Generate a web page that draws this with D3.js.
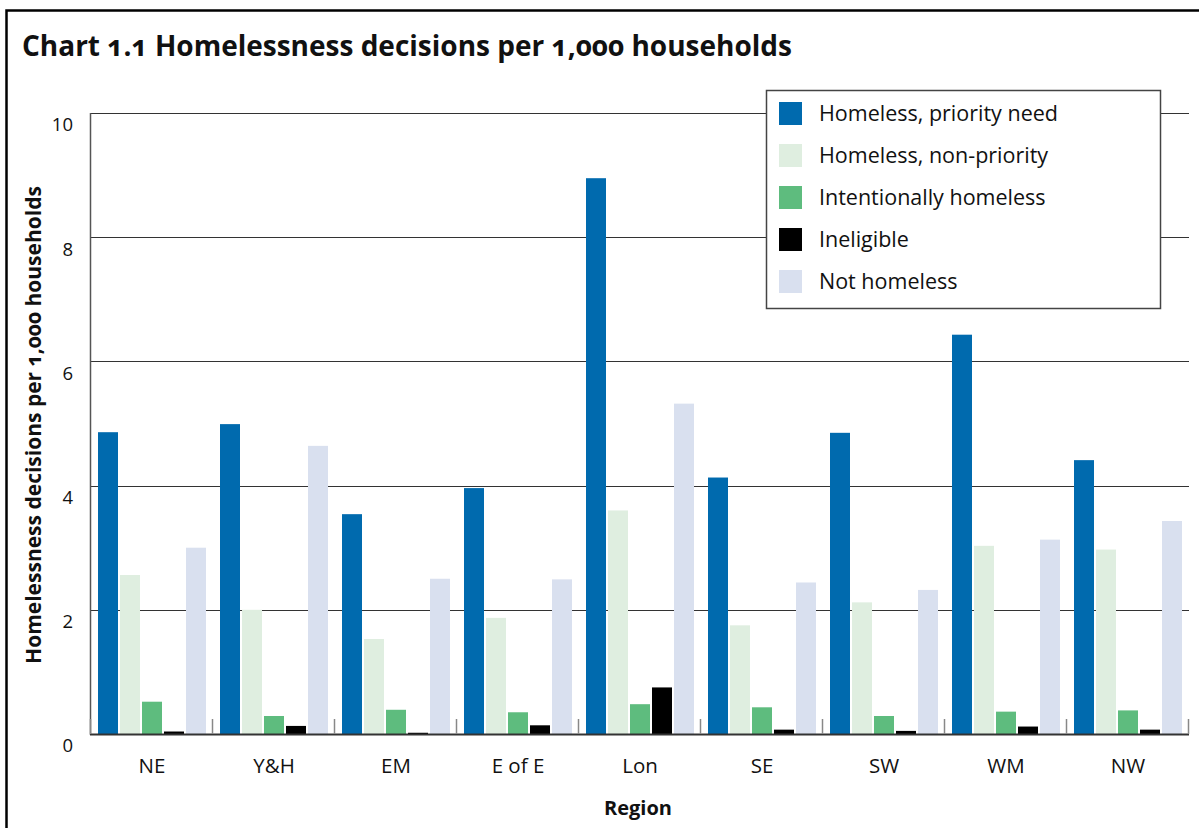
<!DOCTYPE html>
<html>
<head>
<meta charset="utf-8">
<script src="https://cdn.jsdelivr.net/npm/d3@7"></script>
<style>
  html, body { margin: 0; padding: 0; background: #fff; }
  svg { display: block; }
  text { font-family: "Open Sans", "Noto Sans", sans-serif; fill: #111; }
  .onum { font-feature-settings: "onum" 1; font-variant-numeric: oldstyle-nums; }
</style>
</head>
<body>
<svg id="chart" width="1199" height="828"></svg>
<script>
// Homelessness decisions per 1,000 households, by region
const regions = ["NE", "Y&H", "EM", "E of E", "Lon", "SE", "SW", "WM", "NW"];
const seriesNames = [
  "Homeless, priority need",
  "Homeless, non-priority",
  "Intentionally homeless",
  "Ineligible",
  "Not homeless"
];
const priorityNeed   = [4.86, 4.99, 3.54, 3.96, 8.95, 4.13, 4.85, 6.43, 4.41];
const nonPriority    = [2.56, 2.00, 1.53, 1.87, 3.60, 1.75, 2.12, 3.03, 2.97];
const intentionally  = [0.52, 0.29, 0.39, 0.35, 0.48, 0.43, 0.29, 0.36, 0.38];
const ineligible     = [0.04, 0.13, 0.02, 0.14, 0.75, 0.07, 0.05, 0.12, 0.07];
const notHomeless    = [3.00, 4.64, 2.50, 2.49, 5.32, 2.44, 2.32, 3.13, 3.43];
const yTicks = [0, 2, 4, 6, 8, 10];

const seriesValues = [priorityNeed, nonPriority, intentionally, ineligible, notHomeless];
const colors = ["#006aae", "#dfeee0", "#5ebc7e", "#000000", "#d9e0ef"];

const svg = d3.select("#chart");

// plot frame
const plot = { left: 91, right: 1189, top: 113, bottom: 734 };

const x0 = d3.scaleBand().domain(regions).range([plot.left, plot.right]).padding(0);
const x1 = d3.scaleBand().domain(seriesNames).range([7, 115]).paddingInner(1 / 11).paddingOuter(0);
const y = d3.scaleLinear().domain([0, 10]).range([plot.bottom, plot.top]);
const color = d3.scaleOrdinal().domain(seriesNames).range(colors);

// outer border
svg.append("rect")
  .attr("x", 6.5).attr("y", 10.5)
  .attr("width", 1230).attr("height", 860)
  .attr("fill", "none").attr("stroke", "#000").attr("stroke-width", 2.5);

// title
svg.append("text")
  .attr("class", "onum")
  .attr("x", 22).attr("y", 56)
  .attr("font-size", 28).attr("font-weight", 700)
  .text("Chart 1.1 Homelessness decisions per 1,000 households");

// horizontal gridlines (including top)
svg.append("g")
  .selectAll("line")
  .data(yTicks.filter(d => d > 0))
  .join("line")
  .attr("x1", plot.left).attr("x2", plot.right)
  .attr("y1", d => Math.round(y(d)) + 0.5).attr("y2", d => Math.round(y(d)) + 0.5)
  .attr("stroke", "#333").attr("stroke-width", 1.2);

// y axis line
svg.append("line")
  .attr("x1", plot.left - 0.5).attr("x2", plot.left - 0.5)
  .attr("y1", plot.top).attr("y2", plot.bottom + 1)
  .attr("stroke", "#555").attr("stroke-width", 1.5);

// y tick labels (sit just below each gridline)
const yAxis = d3.axisLeft(y).tickValues(yTicks).tickSize(0).tickPadding(0).tickFormat(d3.format("d"));
const yg = svg.append("g").attr("transform", `translate(73,12)`).call(yAxis);
yg.select(".domain").remove();
yg.selectAll("text").attr("font-size", 18.5).attr("font-family", "Open Sans, Noto Sans, sans-serif").attr("fill", "#111");

// bars
const groups = svg.append("g")
  .selectAll("g")
  .data(regions)
  .join("g")
  .attr("transform", d => `translate(${x0(d)},0)`);

groups.selectAll("rect")
  .data((r, i) => seriesNames.map((s, k) => ({ series: s, value: seriesValues[k][i] })))
  .join("rect")
  .attr("x", d => x1(d.series))
  .attr("width", x1.bandwidth())
  .attr("y", d => y(d.value))
  .attr("height", d => y(0) - y(d.value))
  .attr("fill", d => color(d.series));

// x axis baseline and category ticks
svg.append("line")
  .attr("x1", plot.left - 1).attr("x2", plot.right)
  .attr("y1", plot.bottom + 0.5).attr("y2", plot.bottom + 0.5)
  .attr("stroke", "#333").attr("stroke-width", 2);

const boundaries = regions.map(r => x0(r) + x0.bandwidth()).concat([plot.left]);
svg.append("g")
  .selectAll("line")
  .data(boundaries)
  .join("line")
  .attr("x1", d => d - 0.5).attr("x2", d => d - 0.5)
  .attr("y1", plot.bottom - 15).attr("y2", plot.bottom)
  .attr("stroke", "#888").attr("stroke-width", 1.5);

// x tick labels
svg.append("g")
  .selectAll("text")
  .data(regions)
  .join("text")
  .attr("x", d => x0(d) + x0.bandwidth() / 2)
  .attr("y", 773)
  .attr("text-anchor", "middle")
  .attr("font-size", 20.5)
  .text(d => d);

// axis titles
svg.append("text")
  .attr("x", 638).attr("y", 815)
  .attr("text-anchor", "middle")
  .attr("font-size", 20).attr("font-weight", 700)
  .text("Region");

svg.append("text")
  .attr("class", "onum")
  .attr("transform", "translate(41,425) rotate(-90)")
  .attr("text-anchor", "middle")
  .attr("font-size", 21).attr("font-weight", 700)
  .text("Homelessness decisions per 1,000 households");

// legend
const legend = svg.append("g").attr("transform", "translate(766.5,90.5)");
legend.append("rect")
  .attr("width", 394).attr("height", 218)
  .attr("fill", "#fff").attr("stroke", "#444").attr("stroke-width", 1.5);

const items = legend.selectAll("g.item")
  .data(seriesNames)
  .join("g")
  .attr("class", "item")
  .attr("transform", (d, i) => `translate(12.5,${11.5 + i * 42})`);

items.append("rect")
  .attr("width", 23).attr("height", 23)
  .attr("fill", d => color(d));

items.append("text")
  .attr("x", 40).attr("y", 11.5)
  .attr("dy", "0.35em")
  .attr("font-size", 21.5)
  .text(d => d);
</script>
</body>
</html>
